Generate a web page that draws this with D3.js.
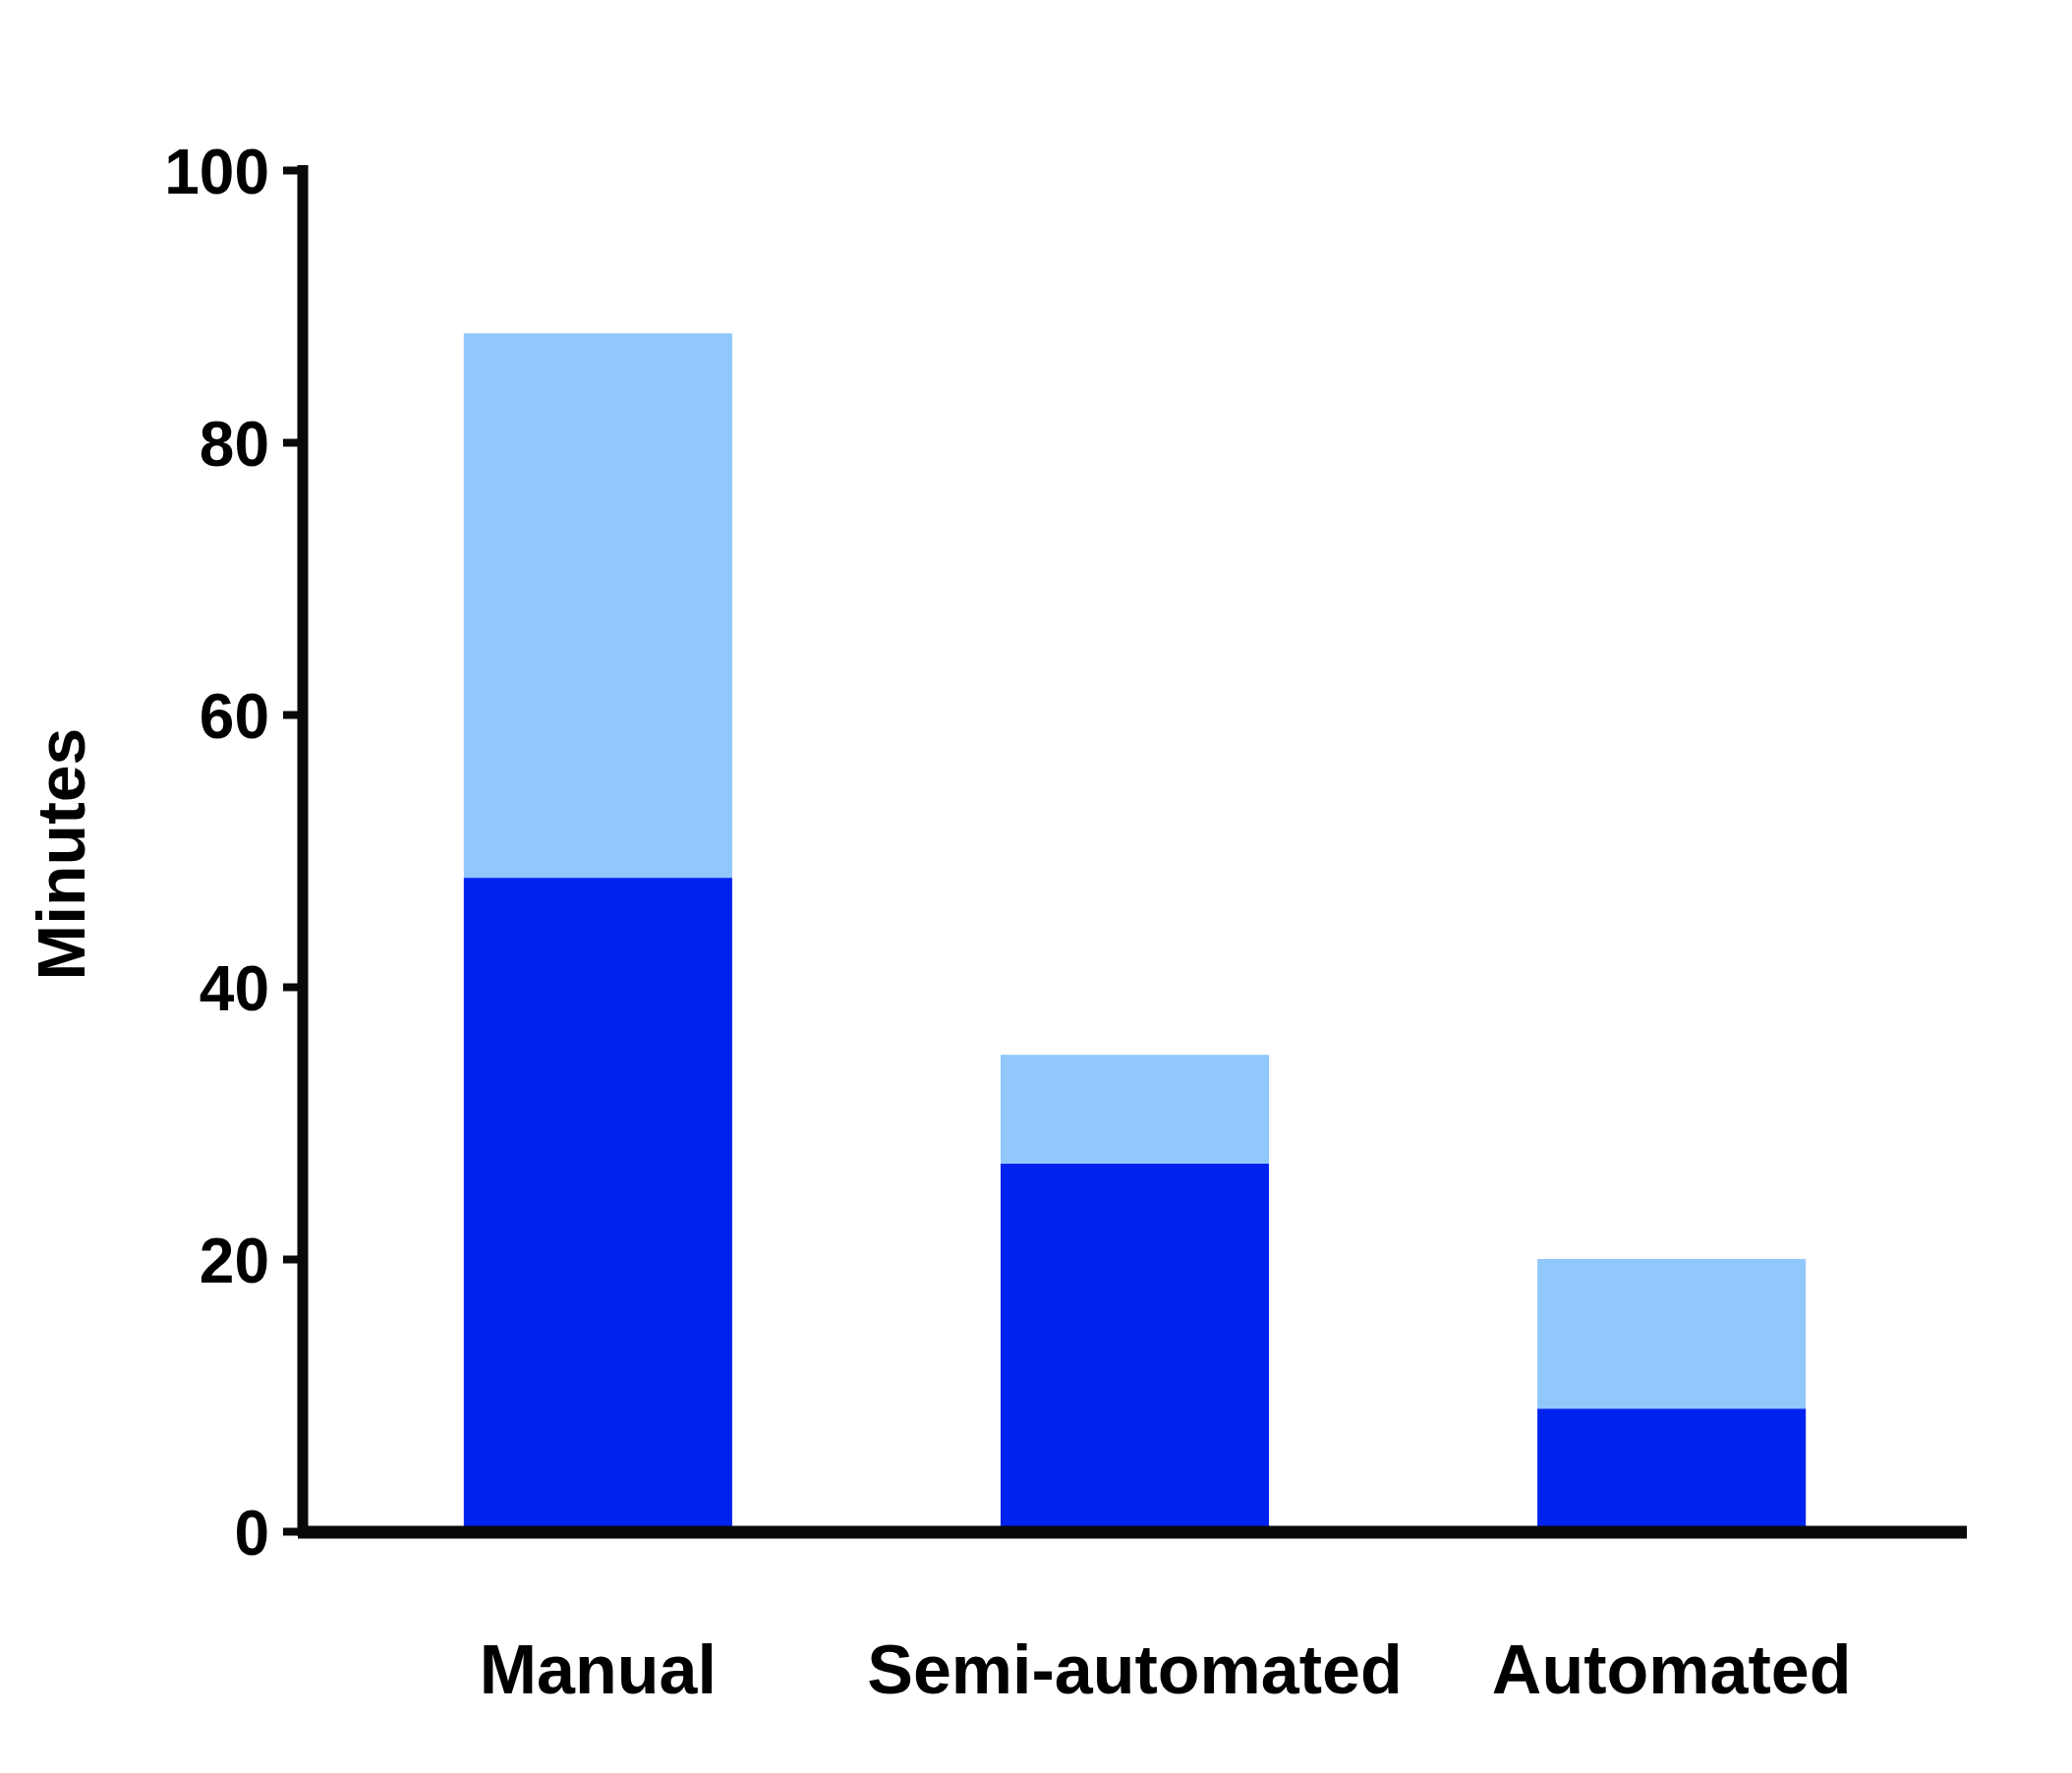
<!DOCTYPE html><html><head><meta charset="utf-8"><script src="https://cdn.jsdelivr.net/npm/d3@7"></script>
<style>body{margin:0;background:#fff}</style></head><body><svg id="c" width="2108" height="1804"></svg><script>
const categories=["Manual","Semi-automated","Automated"];
const darkValues=[48,27,9];
const lightValues=[40,8,11];
const yTicks=[0,20,40,60,80,100];
const svg=d3.select("#c");
const x=d3.scaleBand().domain(categories).range([308,2001]).paddingInner(0.5).paddingOuter(0.3);
const y=d3.scaleLinear().domain([0,100]).range([1558,173]);
const stack=categories.map((c,i)=>({c,d:darkValues[i],l:lightValues[i]}));
const g=svg.append("g");
g.selectAll("rect.l").data(stack).enter().append("rect").attr("x",d=>x(d.c)).attr("width",x.bandwidth())
 .attr("y",d=>y(d.d+d.l)).attr("height",d=>y(d.d)-y(d.d+d.l)).attr("fill","#90c8fc");
g.selectAll("rect.d").data(stack).enter().append("rect").attr("x",d=>x(d.c)).attr("width",x.bandwidth())
 .attr("y",d=>y(d.d)).attr("height",d=>y(0)-y(d.d)).attr("fill","#0022ee");
const ya=svg.append("g").attr("transform","translate(308,0)").call(d3.axisLeft(y).tickValues(yTicks).tickSize(20).tickPadding(14));
ya.select(".domain").attr("stroke","#080a08").attr("stroke-width",11).attr("d","M0,168V1563");
ya.selectAll(".tick line").attr("stroke","#080a08").attr("stroke-width",8);
ya.selectAll("text").attr("font-family","Liberation Sans, Arial, sans-serif").attr("font-weight","bold").attr("font-size",64).attr("fill","#000").attr("dy","0.36em");
svg.append("line").attr("x1",303).attr("x2",2001).attr("y1",y(0)+1).attr("y2",y(0)+1).attr("stroke","#080a08").attr("stroke-width",13);
const xa=svg.append("g").attr("transform","translate(0,1558)").call(d3.axisBottom(x).tickSize(0).tickPadding(115));
xa.select(".domain").remove();
xa.selectAll("text").attr("font-family","Liberation Sans, Arial, sans-serif").attr("font-weight","bold").attr("font-size",70).attr("fill","#000");
svg.append("text").attr("transform","translate(86,869) rotate(-90)").attr("text-anchor","middle")
 .attr("font-family","Liberation Sans, Arial, sans-serif").attr("font-weight","bold").attr("font-size",68).text("Minutes");
</script></body></html>
